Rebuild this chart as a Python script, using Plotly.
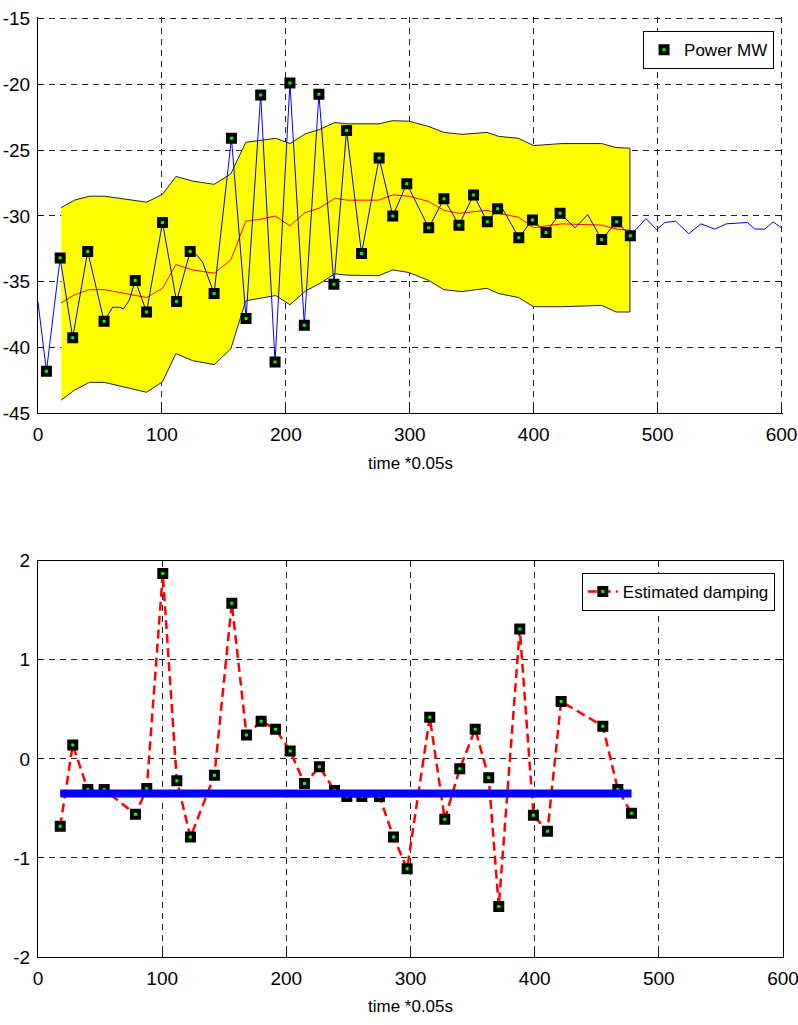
import plotly.graph_objects as go

# ---------------- top panel data ----------------
power_t = [0, 6.8, 17.9, 28, 40.1, 53.3, 60.3, 65.6, 68.9, 73.7, 78.5, 87.6, 100.5, 111.8,
           122.8, 127.4, 132.8, 142.1, 156.1, 167.9, 179.7, 191.3, 203.3, 214.9, 226.7,
           238.8, 249, 261.1, 275.3, 286.3, 297.6, 315.3, 327.6, 339.7, 351.5, 362.6,
           370.9, 374, 388, 399, 410, 421.3, 433.4, 443.6, 454.9, 467, 478, 490.6, 499.2,
           505.9, 514.5, 525.2, 534.9, 546.2, 555.5, 572.5, 578.4, 586.5, 593.2, 600]
power_v = [-36.55, -41.8, -33.2, -39.25, -32.7, -38.0, -36.94, -36.94, -37.06, -36.4, -34.9,
           -37.3, -30.5, -36.5, -32.7, -32.9, -33.5, -35.9, -24.1, -37.8, -20.8, -41.1,
           -19.9, -38.3, -20.75, -35.2, -23.5, -32.85, -25.6, -30.0, -27.55, -30.9, -28.7,
           -30.7, -28.4, -30.45, -29.45, -29.3, -31.65, -30.3, -31.25, -29.8, -30.9, -29.9,
           -31.8, -30.45, -31.5, -30.2, -31.04, -30.5, -30.4, -31.35, -30.6, -31.0, -30.6,
           -30.5, -31.0, -31.0, -30.45, -30.9]

mark_t = [6.8, 17.9, 28, 40.1, 53.3, 78.5, 87.6, 100.5, 111.8, 122.8, 142.1, 156.1, 167.9,
          179.7, 191.3, 203.3, 214.9, 226.7, 238.8, 249, 261.1, 275.3, 286.3, 297.6, 315.3,
          327.6, 339.7, 351.5, 362.6, 370.9, 388, 399, 410, 421.3, 454.9, 467, 478]
mark_v = [-41.8, -33.2, -39.25, -32.7, -38.0, -34.9, -37.3, -30.5, -36.5, -32.7, -35.9,
          -24.1, -37.8, -20.8, -41.1, -19.9, -38.3, -20.75, -35.2, -23.5, -32.85, -25.6,
          -30.0, -27.55, -30.9, -28.7, -30.7, -28.4, -30.45, -29.45, -31.65, -30.3, -31.25,
          -29.8, -31.8, -30.45, -31.5]

band_t = [18.7, 29.4, 41.5, 53.6, 87.6, 100.5, 111.3, 124.7, 142.2, 155.6, 167.7, 191.8,
          203.3, 216, 226.7, 239.6, 249.5, 275, 286.3, 299.2, 315.3, 327.4, 342, 362.3,
          371.7, 387.8, 399.9, 422.7, 454.9, 466.5, 477.7]
band_upper = [-29.37, -28.8, -28.5, -28.5, -28.95, -28.36, -27.0, -27.35, -27.6, -26.8,
              -24.4, -24.1, -24.5, -23.75, -23.45, -22.9, -23.0, -23.0, -22.76, -22.8,
              -23.2, -23.65, -23.8, -23.65, -23.95, -24.1, -24.65, -24.5, -24.5, -24.8, -24.85]
band_lower = [-44.0, -43.24, -42.65, -42.65, -43.4, -42.6, -40.46, -41.0, -41.3, -40.1,
              -36.45, -36.05, -36.75, -35.7, -35.17, -34.4, -34.5, -34.54, -34.1, -34.3,
              -34.9, -35.6, -35.75, -35.5, -35.9, -36.2, -36.9, -36.9, -36.8, -37.3, -37.3]

mean_t = [18.7, 29.4, 41.5, 53.6, 87.6, 100.5, 111.3, 124.7, 142.2, 155.6, 167.7, 179.7,
          191.3, 203.3, 215.4, 226.7, 239.6, 249.5, 275, 286.3, 299.2, 315.3, 327.4, 339.5,
          362.3, 371.7, 387.8, 399.9, 410.6, 422.7, 454.9, 467, 477.7]
mean_v = [-36.6, -36.0, -35.6, -35.6, -36.2, -35.5, -33.7, -34.1, -34.35, -33.35, -30.4,
          -30.25, -30.0, -30.75, -29.75, -29.42, -28.66, -28.8, -28.8, -28.4, -28.5, -28.9,
          -29.57, -29.8, -29.57, -29.8, -30.1, -30.9, -30.75, -30.6, -30.7, -31.0, -31.1]

# ---------------- bottom panel data ----------------
damp_t = [17.9, 28, 40.1, 53.3, 78.5, 87.6, 100.5, 111.8, 122.8, 142.1, 156.1, 167.9, 179.7,
          191.3, 203.1, 214.6, 226.7, 238.8, 248.7, 260.8, 275, 286.3, 297.3, 315.5, 327.6,
          339.7, 352.1, 363, 371.1, 388, 399, 410.3, 421.3, 454.9, 467, 478]
damp_v = [-0.68, 0.14, -0.31, -0.31, -0.56, -0.30, 1.87, -0.22, -0.79, -0.165, 1.57, 0.24,
          0.38, 0.30, 0.078, -0.25, -0.08, -0.32, -0.38, -0.38, -0.38, -0.79, -1.11, 0.42,
          -0.61, -0.10, 0.30, -0.19, -1.49, 1.31, -0.57, -0.73, 0.58, 0.33, -0.31, -0.55]

avg_t = [17.9, 478]
avg_v = [-0.35, -0.35]

x_ticks = [0, 100, 200, 300, 400, 500, 600]
x_labels = ["0", "100", "200", "300", "400", "500", "600"]
y1_ticks = [-45, -40, -35, -30, -25, -20, -15]
y1_labels = ["-45", "-40", "-35", "-30", "-25", "-20", "-15"]
y2_ticks = [-2, -1, 0, 1, 2]
y2_labels = ["-2", "-1", "0", "1", "2"]

FONT = "Liberation Sans, Arial, Helvetica, sans-serif"

MARK = dict(symbol="square", size=7, color="#00ff00",
            line=dict(color="#000000", width=4))

fig = go.Figure()

# yellow band as closed polygon
fig.add_trace(go.Scatter(
    x=band_t + band_t[::-1], y=band_upper + band_lower[::-1],
    fill="toself", fillcolor="#ffff00", mode="lines",
    line=dict(color="#222222", width=1), showlegend=False, hoverinfo="skip",
    xaxis="x", yaxis="y"))
fig.add_trace(go.Scatter(
    x=mean_t, y=mean_v, mode="lines", line=dict(color="#ff0000", width=1),
    showlegend=False, xaxis="x", yaxis="y"))
fig.add_trace(go.Scatter(
    x=power_t, y=power_v, mode="lines", line=dict(color="#0000ff", width=1),
    showlegend=False, xaxis="x", yaxis="y"))
fig.add_trace(go.Scatter(
    x=mark_t, y=mark_v, mode="markers", name="Power MW", marker=MARK,
    xaxis="x", yaxis="y", legend="legend"))

# bottom
fig.add_trace(go.Scatter(
    x=damp_t, y=damp_v, mode="lines+markers", name="Estimated damping",
    line=dict(color="#ff0000", width=2.5, dash="9px,5px"), marker=MARK,
    xaxis="x2", yaxis="y2", legend="legend2"))
fig.add_trace(go.Scatter(
    x=avg_t, y=avg_v, mode="lines", line=dict(color="#0000ff", width=8),
    showlegend=False, xaxis="x2", yaxis="y2"))

axis_common = dict(
    showline=True, linecolor="#000000", linewidth=1,
    ticks="inside", ticklen=5, tickcolor="#000000",
    showgrid=True, gridcolor="#222222", gridwidth=1, griddash="6px,5px",
    zeroline=False, automargin=False, ticklabeloverflow="allow",
    tickfont=dict(family=FONT, size=19, color="#000000"),
)

fig.update_layout(
    width=798, height=1025,
    margin=dict(l=38, r=15, t=17, b=68),
    paper_bgcolor="#ffffff", plot_bgcolor="#ffffff",
    font=dict(family=FONT, size=18, color="#000000"),
    xaxis=dict(axis_common, range=[0, 601.2], tickvals=x_ticks, ticktext=x_labels,
               anchor="y", domain=[0, 1], mirror=False, ticklabelstandoff=4,
               title=dict(text="time *0.05s", standoff=12,
                          font=dict(family=FONT, size=17))),
    yaxis=dict(axis_common, range=[-45, -14.88], tickvals=y1_ticks, ticktext=y1_labels,
               anchor="x", domain=[0.5784, 1.0], mirror=False, ticklabelstandoff=3),
    xaxis2=dict(axis_common, range=[0, 600], tickvals=x_ticks, ticktext=x_labels,
                anchor="y2", domain=[0, 1], mirror="ticks", ticklabelstandoff=4,
                title=dict(text="time *0.05s", standoff=12,
                           font=dict(family=FONT, size=17))),
    yaxis2=dict(axis_common, range=[-2, 2], tickvals=y2_ticks, ticktext=y2_labels,
                anchor="x2", domain=[0, 0.4216], mirror="ticks", ticklabelstandoff=3),
    legend=dict(x=0.988, y=0.985, xanchor="right", yanchor="top",
                bgcolor="#ffffff", bordercolor="#000000", borderwidth=1,
                font=dict(family=FONT, size=17)),
    legend2=dict(x=0.989, y=0.4085, xanchor="right", yanchor="top",
                 bgcolor="#ffffff", bordercolor="#000000", borderwidth=1,
                 font=dict(family=FONT, size=17)),
)

fig.write_html("out.html", config={"displayModeBar": False},
               post_script="document.body.style.margin='0';")
